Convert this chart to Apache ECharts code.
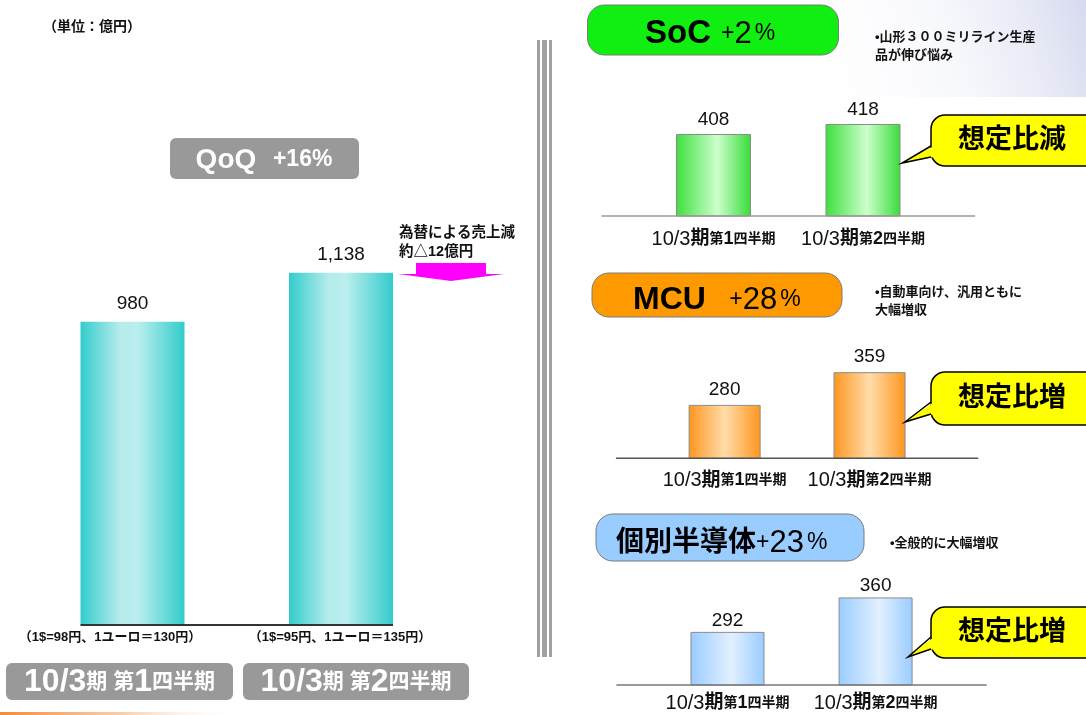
<!DOCTYPE html>
<html><head><meta charset="utf-8">
<script src="https://cdn.jsdelivr.net/npm/echarts@6/dist/echarts.min.js"></script>
<style>html,body{margin:0;padding:0;background:#fff}#c{width:1086px;height:715px}</style>
</head><body><div id="c"></div>
<script>
// ---------------- data ----------------
const quarters = ['10/3期 第1四半期', '10/3期 第2四半期'];
const quartersShort = ['10/3期第1四半期', '10/3期第2四半期'];
const totalSales = [980, 1138];
const fxNotes = ['（1$=98円、1ユーロ＝130円）', '（1$=95円、1ユーロ＝135円）'];
const unitLabel = '（単位：億円）';
const fxImpact = ['為替による売上減', '約△12億円'];
const segNames = ['SoC', 'MCU', '個別半導体'];
const socSales = [408, 418];
const mcuSales = [280, 359];
const discreteSales = [292, 360];
const segNotes = [['•山形３００ミリライン生産', '品が伸び悩み'], ['•自動車向け、汎用ともに', '大幅増収'], ['•全般的に大幅増収']];
const segVerdicts = ['想定比減', '想定比増', '想定比増'];

// ---------------- helpers ----------------
const F = "'Liberation Sans','Noto Sans CJK JP',sans-serif";
const chart = echarts.init(document.getElementById('c'), null, {renderer: 'canvas'});
const LG = (stops) => new echarts.graphic.LinearGradient(0, 0, 1, 0, stops.map(s => ({offset: s[0], color: s[1]})));
function runs(s, a, b) {
  const parts = s.match(/[0-9A-Za-z\/,+%$=.]+|[^0-9A-Za-z\/,+%$=.]+/g) || [];
  return parts.map(p => /^[0-9A-Za-z\/,+%$=.]/.test(p) ? `{${a}|${p}}` : `{${b}|${p}}`).join('');
}
const pct = arr => '+' + Math.round((arr[1] / arr[0] - 1) * 100) + '%';

const panels = [
  {data: socSales, grid: {left: 638.75, right: 148.25, top: 42, bottom: 499}, min: 326, max: 500, bw: 75,
   color: LG([[0, '#3ee03e'], [0.55, '#ccffcc'], [1, '#38dc38']]), dist: 5, margin: 13, line: '#9a9a9a'},
  {data: mcuSales, grid: {left: 652.15, right: 144, top: 313.8, bottom: 256.7}, min: 151, max: 500, bw: 72,
   color: LG([[0, '#ff961e'], [0.5, '#ffdcaa'], [1, '#ff961e']]), dist: 6, margin: 12, line: '#555'},
  {data: discreteSales, grid: {left: 653.45, right: 136.35, top: 551.9, bottom: 30}, min: 187, max: 450, bw: 74,
   color: LG([[0, '#99ccff'], [0.55, '#e2f0ff'], [1, '#99ccff']]), dist: 2, margin: 8, line: '#777'}
];

const grids = [{left: 28.25, right: 640.75, top: 129.7, bottom: 90}];
const xAxes = [{type: 'category', gridIndex: 0, data: quarters, axisLine: {show: false}, axisTick: {show: false}, axisLabel: {show: false}}];
const yAxes = [{type: 'value', gridIndex: 0, min: 0, max: 1600, show: false}];
const series = [{
  type: 'bar', xAxisIndex: 0, yAxisIndex: 0, data: totalSales, barWidth: 104,
  itemStyle: {color: LG([[0, '#33cccc'], [0.38, '#b6ecec'], [0.55, '#bbeeee'], [1, '#33cccc']])},
  label: {show: true, position: 'top', distance: 8, fontSize: 19, color: '#111', fontFamily: F,
          formatter: p => p.value.toLocaleString('en-US')}
}];

panels.forEach((p, i) => {
  const gi = i + 1;
  grids.push(Object.assign({}, p.grid));
  xAxes.push({type: 'category', gridIndex: gi, data: quartersShort, axisLine: {show: false}, axisTick: {show: false},
    axisLabel: {margin: p.margin, color: '#111', interval: 0, hideOverlap: false,
      formatter: v => { const m = v.match(/^(\d+\/\d+期)(.*)$/); return runs(m[1], 'hd', 'hk') + runs(m[2], 'n', 's'); },
      rich: {
        hd: {fontSize: 20, fontFamily: F, color: '#111'},
        hk: {fontSize: 19, fontWeight: 'bold', fontFamily: F, color: '#111'},
        n: {fontSize: 18, fontWeight: 'bold', fontFamily: F, color: '#111'},
        s: {fontSize: 14, fontWeight: 'bold', fontFamily: F, color: '#111'}
      }}});
  yAxes.push({type: 'value', gridIndex: gi, min: p.min, max: p.max, show: false});
  series.push({type: 'bar', xAxisIndex: gi, yAxisIndex: gi, data: p.data, barWidth: p.bw,
    itemStyle: {color: p.color, borderColor: '#8c8c8c', borderWidth: 1},
    label: {show: true, position: 'top', distance: p.dist, fontSize: 19, color: '#111', fontFamily: F}});
});

chart.setOption({animation: false, backgroundColor: '#fff', grid: grids, xAxis: xAxes, yAxis: yAxes, series: series});

// ---------------- annotations ----------------
const G = [];
const txt = (x, y, text, style, z) => G.push({type: 'text', x, y, z: z || 20,
  style: Object.assign({text, fill: '#111', fontFamily: F, verticalAlign: 'middle', align: 'left'}, style)});

// top-right faint header gradient
G.push({type: 'rect', z: 0, shape: {x: 680, y: 0, width: 406, height: 97},
  style: {fill: new echarts.graphic.LinearGradient(1, 0, 0.25, 1, [
    {offset: 0, color: 'rgba(130,140,205,0.32)'}, {offset: 0.45, color: 'rgba(220,224,242,0.22)'}, {offset: 1, color: 'rgba(255,255,255,0)'}])}});
// bottom-left orange strip
G.push({type: 'rect', z: 0, shape: {x: 0, y: 712, width: 240, height: 3},
  style: {fill: LG([[0, '#f08a3c'], [0.5, 'rgba(245,170,110,0.6)'], [1, 'rgba(255,255,255,0)']])}});
// divider
[[537, 3], [542, 5], [549, 3]].forEach(d => G.push({type: 'rect', z: 1, shape: {x: d[0], y: 40, width: d[1], height: 617}, style: {fill: '#a0a0a0'}}));

// unit label
txt(43, 27, unitLabel, {fontSize: 14, fontWeight: 'bold'});

// QoQ box
G.push({type: 'rect', z: 5, shape: {x: 170, y: 138, width: 189, height: 41, r: 6}, style: {fill: '#999999'}});
txt(264, 160, '{q|QoQ}{sp|     }{p|' + pct(totalSales) + '}', {align: 'center',
  rich: {q: {fontSize: 28, fontWeight: 'bold', fill: '#fff', fontFamily: F},
         sp: {fontSize: 12, fill: '#fff'},
         p: {fontSize: 23, fontWeight: 'bold', fill: '#fff', fontFamily: F}}});

// FX impact arrow + text
G.push({type: 'polygon', z: 5, shape: {points: [[416, 263], [486, 263], [486, 274], [504, 274], [451, 281], [398, 274], [416, 274]]},
  style: {fill: '#ff00ff'}});
txt(399, 233, fxImpact[0], {fontSize: 14.5, fontWeight: 'bold'});
txt(399, 252, fxImpact[1], {fontSize: 14.5, fontWeight: 'bold'});

// FX rate notes
txt(110, 637, fxNotes[0], {fontSize: 13, fontWeight: 'bold', align: 'center'});
txt(340, 637, fxNotes[1], {fontSize: 13, fontWeight: 'bold', align: 'center'});

// quarter boxes (left)
[[6, 227], [243, 226]].forEach((b, i) => {
  G.push({type: 'rect', z: 5, shape: {x: b[0], y: 663, width: b[1], height: 37, r: 6}, style: {fill: '#999999'}});
  txt(b[0] + b[1] / 2, 682, runs(quarters[i], 'd', 'k'), {align: 'center',
    rich: {d: {fontSize: 32, fontWeight: 'bold', fill: '#fff', fontFamily: F},
           k: {fontSize: 21, fontWeight: 'bold', fill: '#fff', fontFamily: F}}});
});

// segment pills, notes, bubbles
const segData = [socSales, mcuSales, discreteSales];
const pills = [
  {x: 587.5, y: 5, w: 251, h: 50, fill: '#11ee11', tx: 645, ty: 34, nf: 33, gap: '   ', notesX: 875, notesY: 37},
  {x: 592, y: 273, w: 250, h: 44, fill: '#ff9900', tx: 633, ty: 300, nf: 32, gap: '       ', notesX: 875, notesY: 292},
  {x: 596, y: 514, w: 268, h: 47, fill: '#99ccff', tx: 616, ty: 543, nf: 28, gap: '', notesX: 890, notesY: 543}
];
const bubbles = [
  {x0: 931, y0: 115, y1: 166, ya: 146, yb: 157, tip: [902, 163]},
  {x0: 931, y0: 372, y1: 425, ya: 402, yb: 414, tip: [905, 422]},
  {x0: 931, y0: 607, y1: 658, ya: 637, yb: 649, tip: [908, 657]}
];
pills.forEach((p, i) => {
  G.push({type: 'rect', z: 5, shape: {x: p.x, y: p.y, width: p.w, height: p.h, r: 17}, style: {fill: p.fill, stroke: '#7a7a7a', lineWidth: 1}});
  const ch = pct(segData[i]);
  const chRich = ch.replace(/(\+)(\d+)(%)/, '{p|$1}{d|$2}{q|$3}');
  txt(p.tx, p.ty, '{n|' + segNames[i] + '}' + (p.gap ? '{sp|' + p.gap + '}' : '') + chRich, {
    rich: {n: {fontSize: p.nf, fontWeight: 'bold', fill: '#000', fontFamily: F},
           sp: {fontSize: 12},
           p: {fontSize: 23, fill: '#000', fontFamily: F},
           d: {fontSize: 31, fill: '#000', fontFamily: F},
           q: {fontSize: 23, fill: '#000', fontFamily: F, padding: [0, 0, 0, 3]}}});
  segNotes[i].forEach((line, j) => txt(p.notesX, p.notesY + j * 18, line, {fontSize: 13, fontWeight: 'bold'}));
  const b = bubbles[i];
  G.push({type: 'rect', z: 6, shape: {x: b.x0, y: b.y0, width: 200, height: b.y1 - b.y0, r: 14},
    style: {fill: '#ffff00', stroke: '#000', lineWidth: 1.5}});
  G.push({type: 'polygon', z: 7, shape: {points: [[b.x0 + 3, b.ya], b.tip, [b.x0 + 3, b.yb]]}, style: {fill: '#ffff00'}});
  G.push({type: 'polyline', z: 8, shape: {points: [[b.x0, b.ya], b.tip, [b.x0, b.yb]]}, style: {stroke: '#000', lineWidth: 1.5, fill: null}});
  txt(1012, (b.y0 + b.y1) / 2, segVerdicts[i], {fontSize: 27, fontWeight: 'bold', fill: '#000', align: 'center'}, 9);
});

// baselines computed from the axes
{
  const c0 = chart.convertToPixel({gridIndex: 0}, [0, 0]);
  const c1 = chart.convertToPixel({gridIndex: 0}, [1, 0]);
  G.push({type: 'line', z: 10, shape: {x1: c0[0] - 52, y1: c0[1], x2: c1[0] + 52, y2: c0[1]}, style: {stroke: '#333', lineWidth: 2}});
}
panels.forEach((p, i) => {
  const a = chart.convertToPixel({gridIndex: i + 1}, [0, p.min]);
  const b = chart.convertToPixel({gridIndex: i + 1}, [1, p.min]);
  const d = (b[0] - a[0]) * 0.75;
  G.push({type: 'line', z: 10, shape: {x1: a[0] - d, y1: a[1], x2: b[0] + d, y2: a[1]}, style: {stroke: p.line, lineWidth: 1.5}});
});

chart.setOption({graphic: G});
</script>
</body></html>
